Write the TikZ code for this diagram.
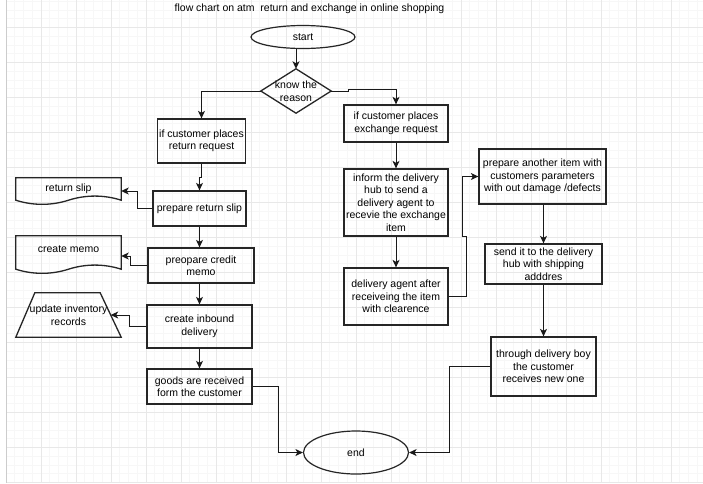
\documentclass[tikz,border=0pt]{standalone}
\usepackage{fontspec}
\setmainfont{Liberation Sans}
\usetikzlibrary{calc}
\usetikzlibrary{shapes.geometric}
\usetikzlibrary{arrows.meta}

\tikzset{
	txt/.style={align=center, inner sep=1pt, font=\fontsize{10.5}{12.5}\selectfont},
	box/.style={txt, rectangle, draw=black!85, line width=1.3pt},
	oval/.style={txt, ellipse, draw=black!85, line width=1.2pt},
	outline/.style={draw=black!85, line width=1.3pt, line join=miter},
	arr/.style={-{Stealth[length=7.5pt,width=7pt,inset=2pt]}, line width=1pt, black!90},
	minorline/.style={color=black!3, line width=0.6pt},
	majorline/.style={color=black!9, line width=0.8pt}
}

\begin{document}
\begin{tikzpicture}[x=1pt, y=-1pt]
	\useasboundingbox (0,0) rectangle (703,483);
	\fill[white] (0,0) rectangle (703,483);

	% grid
	\foreach \i in {0,...,79}
	\draw[minorline] ({6+8.75*\i},0) -- ({6+8.75*\i},483);
	\foreach \j in {0,...,55}
	\draw[minorline] (6,{1.05+8.75*\j}) -- (703,{1.05+8.75*\j});
	\foreach \i in {0,...,19}
	\draw[majorline] ({6+35*\i},0) -- ({6+35*\i},483);
	\foreach \j in {0,...,13}
	\draw[majorline] (6,{27.3+35*\j}) -- (703,{27.3+35*\j});
	\draw[black!20, line width=1pt] (6,0) -- (6,483);

	\node[txt] (title) at (309.5,9) {flow chart on atm~ return and exchange in online shopping};

	\node[oval, minimum width=104pt, minimum height=23pt] (start) at (303,37) {start};
	\node[txt, minimum width=70pt, minimum height=44pt] (reason) at (296,91) {know the\\reason};
	\draw[outline] (reason.north) -- (reason.east) -- (reason.south) -- (reason.west) -- cycle;

	% return side
	\node[box, minimum width=88pt, minimum height=44pt] (retreq) at (201.5,141) {if customer places\\return request};
	\node[box, minimum width=93pt, minimum height=35pt] (slip) at (199.5,208.5) {prepare return slip};
	\node[box, minimum width=106pt, minimum height=35pt] (credit) at (201,265.5) {preopare credit\\memo};
	\node[box, minimum width=105pt, minimum height=43pt] (inbound) at (199.5,326.5) {create inbound\\delivery};
	\node[box, minimum width=105pt, minimum height=35pt] (goods) at (199.5,386.5) {goods are received\\form the customer};
	\node[oval, minimum width=105pt, minimum height=43pt] (stop) at (356,452.5) {end};

	\node[txt, minimum width=105pt, minimum height=22pt] (rslip) at (68.5,189) {return slip};
	\draw[outline] (rslip.north west) -- (rslip.north east) -- (rslip.south east)
		.. controls +(-17,-5.5) and +(17,-5.5) .. (rslip.south)
		.. controls +(-17,5.5) and +(17,5.5) .. (rslip.south west) -- cycle;
	\node[txt, minimum width=105pt, minimum height=33pt, text depth=7pt] (mdoc) at (68.5,252.5) {create memo};
	\draw[outline] (mdoc.north west) -- (mdoc.north east) -- (mdoc.south east)
		.. controls +(-17,-5.5) and +(17,-5.5) .. (mdoc.south)
		.. controls +(-17,5.5) and +(17,5.5) .. (mdoc.south west) -- cycle;
	\node[txt, minimum width=105pt, minimum height=44pt] (inv) at (68.5,315) {update inventory\\records};
	\draw[outline] ([xshift=19pt]inv.north west) -- ([xshift=-21pt]inv.north east) -- (inv.south east) -- (inv.south west) -- cycle;
	\coordinate (invside) at ($([xshift=-21pt]inv.north east)!0.5!(inv.south east)$);

	% exchange side
	\node[box, minimum width=104pt, minimum height=37pt] (exreq) at (396,123.5) {if customer places\\exchange request};
	\node[box, minimum width=104pt, minimum height=67pt] (inform) at (396,202.5) {inform the delivery\\hub to send a\\delivery agent to\\recevie the exchange\\item};
	\node[box, minimum width=104pt, minimum height=57pt] (agent) at (396,296.5) {delivery agent after\\receiveing the item\\with clearence};
	\node[box, minimum width=127pt, minimum height=55pt] (another) at (542.5,176.5) {prepare another item with\\customers parameters\\with out damage /defects};
	\node[box, minimum width=117pt, minimum height=40pt] (hub) at (543.5,264) {send it to the delivery\\hub with shipping\\adddres};
	\node[box, minimum width=105pt, minimum height=59pt] (boy) at (543.5,366.5) {through delivery boy\\the customer\\receives new one};

	% connectors
	\draw[arr] (start.south -| reason.north) -- (reason.north);
	\draw[arr] (reason.west) -| (retreq.north);
	\draw[arr] (reason.east) -- ++(17,0) -- ++(0,-2) -| (exreq.north);
	\draw[arr] (retreq.south) -- ++(0,14) -| (slip.north);
	\draw[arr] (slip.west) -- ++(-15,0) |- ([yshift=-2pt]rslip.east);
	\draw[arr] (slip.south) -- (slip.south |- credit.north);
	\draw[arr] (credit.west) -- ++(-17,0) |- ([yshift=-3.5pt]mdoc.east);
	\draw[arr] (credit.south -| inbound.north) -- (inbound.north);
	\draw[arr] (inbound.west) -- ++(-17,0) |- (invside);
	\draw[arr] (inbound.south) -- (goods.north);
	\draw[arr] (goods.east) -- ++(26,0) |- (stop.west);
	\draw[arr] (exreq.south) -- (inform.north);
	\draw[arr] (inform.south) -- (agent.north);
	\draw[arr] (agent.east) -- ++(18,0) -- ++(0,-60) -- ++(-4,0) |- (another.west);
	\draw[arr] (another.south -| hub.north) -- (hub.north);
	\draw[arr] (hub.south) -- (boy.north);
	\draw[arr] (boy.west) -- ++(-41,0) |- (stop.east);
\end{tikzpicture}
\end{document}
